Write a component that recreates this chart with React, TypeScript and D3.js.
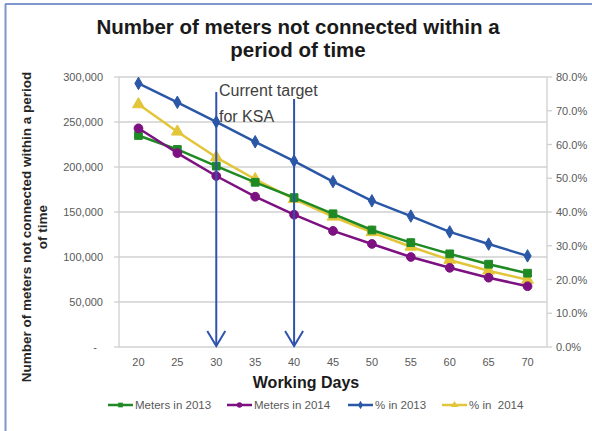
import React from "react";
import * as d3 from "d3";

// Working days on the x axis
const days = [20, 25, 30, 35, 40, 45, 50, 55, 60, 65, 70];

// Meters not connected (left axis)
const meters2013 = [235000, 219500, 201000, 183000, 166000, 148000, 130000, 116000, 103500, 92000, 82000];
const meters2014 = [243000, 215500, 190000, 167000, 147000, 129000, 114500, 100000, 88000, 77000, 67500];

// Share not connected (right axis, percent)
const pct2013 = [78.1, 72.5, 66.7, 60.8, 55.1, 49.0, 43.3, 38.8, 34.1, 30.5, 27.0];
const pct2014 = [71.9, 63.8, 56.2, 49.7, 43.8, 38.6, 34.0, 29.7, 25.8, 22.6, 19.9];

// Target markers
const targetDays = [30, 40];

const leftTicks = [0, 50000, 100000, 150000, 200000, 250000, 300000];
const rightTicks = [0, 10, 20, 30, 40, 50, 60, 70, 80];

const W = 592;
const H = 431;
const plot = { left: 119, right: 547, top: 77, bottom: 347 };

const COLORS = {
  green: "#1f8a24",
  purple: "#7d1181",
  blue: "#2b57a7",
  yellow: "#e3c53a",
  arrow: "#2f53ad",
  text: "#595959",
  grid: "#d0d0d0",
};

type Marker = "square" | "circle" | "diamond" | "triangle";

function markerPath(kind: Marker, size: number) {
  const sym =
    kind === "square"
      ? d3.symbolSquare
      : kind === "circle"
      ? d3.symbolCircle
      : kind === "diamond"
      ? d3.symbolDiamond
      : d3.symbolTriangle;
  return d3.symbol().type(sym).size(size)() as string;
}

export default function App() {
  const x = d3
    .scalePoint<number>()
    .domain(days)
    .range([plot.left, plot.right])
    .padding(0.5);
  const yL = d3.scaleLinear().domain([0, 300000]).range([plot.bottom, plot.top]);
  const yR = d3.scaleLinear().domain([0, 80]).range([plot.bottom, plot.top]);

  const fmtL = (v: number) => (v === 0 ? "-" : d3.format(",")(v));
  const fmtR = (v: number) => d3.format(".1f")(v) + "%";

  const series = [
    { name: "Meters in 2013", values: meters2013, y: yL, color: COLORS.green, marker: "square" as Marker, size: 60 },
    { name: "Meters in 2014", values: meters2014, y: yL, color: COLORS.purple, marker: "circle" as Marker, size: 60 },
    { name: "% in 2013", values: pct2013, y: yR, color: COLORS.blue, marker: "diamond" as Marker, size: 45 },
    { name: "% in  2014", values: pct2014, y: yR, color: COLORS.yellow, marker: "triangle" as Marker, size: 60 },
  ];
  // Draw order: blue, yellow, green, purple on top
  const drawOrder = [2, 3, 0, 1];

  const legendItems = [
    { s: series[0], x: 108 },
    { s: series[1], x: 227 },
    { s: series[2], x: 348 },
    { s: series[3], x: 442 },
  ];

  const font = "'Liberation Sans', Arial, sans-serif";

  return (
    <svg width={W} height={H} viewBox={`0 0 ${W} ${H}`} style={{ display: "block", position: "absolute", left: 0, top: 0 }} fontFamily={font}>
      <rect x={0} y={0} width={W} height={H} fill="#ffffff" />
      {/* frame */}
      <line x1={5} x2={W} y1={4} y2={4} stroke="#7f97cc" strokeWidth={2} />
      <line x1={5.5} x2={5.5} y1={4} y2={H} stroke="#7f97cc" strokeWidth={2} />

      {/* title */}
      <text x={298} y={34} textAnchor="middle" fontSize={20.5} fontWeight="bold" fill="#1a1a1a">
        Number of meters not connected within a
      </text>
      <text x={298} y={57} textAnchor="middle" fontSize={20.5} fontWeight="bold" fill="#1a1a1a">
        period of time
      </text>

      {/* grid */}
      {leftTicks.map((t) => (
        <line key={"g" + t} x1={plot.left} x2={plot.right} y1={yL(t)} y2={yL(t)} stroke={COLORS.grid} strokeWidth={1.3} />
      ))}
      <line x1={plot.left} x2={plot.left} y1={plot.top} y2={plot.bottom} stroke={COLORS.grid} strokeWidth={1.3} />
      <line x1={plot.right} x2={plot.right} y1={plot.top} y2={plot.bottom} stroke={COLORS.grid} strokeWidth={1.3} />

      {/* left axis */}
      {leftTicks.map((t) => (
        <g key={"l" + t}>
          <line x1={plot.left - 5} x2={plot.left} y1={yL(t)} y2={yL(t)} stroke={COLORS.grid} strokeWidth={1.3} />
          <text x={t === 0 ? 97 : 103} y={yL(t) + 4} textAnchor="end" fontSize={11} fill={COLORS.text}>
            {fmtL(t)}
          </text>
        </g>
      ))}

      {/* right axis */}
      {rightTicks.map((t) => (
        <g key={"r" + t}>
          <line x1={plot.right} x2={plot.right + 5} y1={yR(t)} y2={yR(t)} stroke={COLORS.grid} strokeWidth={1.3} />
          <text x={556} y={yR(t) + 4} textAnchor="start" fontSize={11} fill={COLORS.text}>
            {fmtR(t)}
          </text>
        </g>
      ))}

      {/* x axis labels */}
      {days.map((d) => (
        <text key={"x" + d} x={x(d)} y={366} textAnchor="middle" fontSize={11} fill={COLORS.text}>
          {d}
        </text>
      ))}
      <text x={306} y={388} textAnchor="middle" fontSize={16} fontWeight="bold" fill="#1a1a1a">
        Working Days
      </text>

      {/* y axis title */}
      <g transform="translate(31,227) rotate(-90)">
        <text x={0} y={0} textAnchor="middle" fontSize={13.5} fontWeight="bold" fill="#262626">
          Number of meters not connected within a period
        </text>
        <text x={0} y={16} textAnchor="middle" fontSize={13.5} fontWeight="bold" fill="#262626">
          of time
        </text>
      </g>

      {/* series */}
      {drawOrder.map((i) => {
        const s = series[i];
        const line = d3
          .line<number>()
          .x((_, j) => x(days[j]) as number)
          .y((v) => s.y(v));
        const mp = markerPath(s.marker, s.size);
        return (
          <g key={s.name}>
            <path d={line(s.values) as string} fill="none" stroke={s.color} strokeWidth={2.5} strokeLinejoin="round" />
            {s.values.map((v, j) => (
              <path key={j} d={mp} transform={`translate(${x(days[j])},${s.y(v)})`} fill={s.color} stroke={s.color} strokeWidth={1} />
            ))}
          </g>
        );
      })}

      {/* target arrows */}
      {targetDays.map((d, k) => {
        const cx = x(d) as number;
        const top = k === 0 ? 92 : 99;
        const tip = plot.bottom - 1;
        return (
          <g key={"a" + d} stroke={COLORS.arrow} strokeWidth={2} fill="none">
            <line x1={cx} x2={cx} y1={top} y2={tip} />
            <polyline points={`${cx - 9},${tip - 15} ${cx},${tip} ${cx + 9},${tip - 15}`} strokeLinejoin="miter" />
          </g>
        );
      })}
      <text x={219} y={96} fontSize={16} fill="#404040">Current target</text>
      <text x={219} y={122} fontSize={16} fill="#404040">for KSA</text>

      {/* legend */}
      {legendItems.map(({ s, x: lx }) => (
        <g key={"lg" + s.name}>
          <line x1={lx} x2={lx + 25} y1={405} y2={405} stroke={s.color} strokeWidth={2.5} />
          <path d={markerPath(s.marker, 22)} transform={`translate(${lx + 12.5},405)`} fill={s.color} />
          <text x={lx + 27} y={409} fontSize={11.5} fill={COLORS.text} style={{ whiteSpace: "pre" }}>
            {s.name}
          </text>
        </g>
      ))}
    </svg>
  );
}
